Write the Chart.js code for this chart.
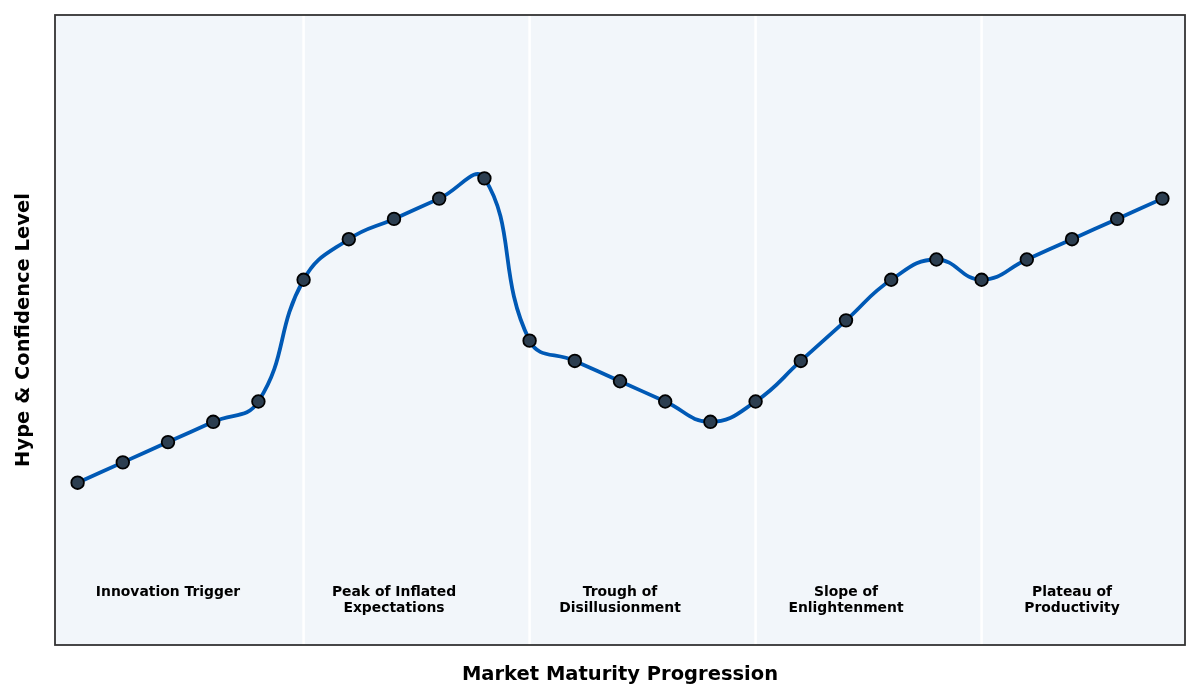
<!DOCTYPE html>
<html>
<head>
<meta charset="utf-8">
<script src="https://cdn.jsdelivr.net/npm/chart.js@4/dist/chart.umd.min.js"></script>
<style>
  html, body { margin: 0; padding: 0; background: #ffffff; }
  #wrap { width: 1200px; height: 700px; }
</style>
</head>
<body>
<div id="wrap"><canvas id="c" width="1200" height="700"></canvas></div>
<script>
// ---- data ----
const stepIndex = [0,1,2,3,4,5,6,7,8,9,10,11,12,13,14,15,16,17,18,19,20,21,22,23,24];
const hypeValues = [8,9,10,11,12,18,20,21,22,23,15,14,13,12,11,12,14,16,18,19,18,19,20,21,22];
const phaseNames = [
  ["Innovation Trigger"],
  ["Peak of Inflated", "Expectations"],
  ["Trough of", "Disillusionment"],
  ["Slope of", "Enlightenment"],
  ["Plateau of", "Productivity"]
];
const phaseBoundaries = [5, 10, 15, 20];
const phaseCenters = [2, 7, 12, 17, 22];
const yAxisTitle = "Hype & Confidence Level";
const xAxisTitle = "Market Maturity Progression";

const FONT = "'DejaVu Sans', sans-serif";
const yMax = Math.max(...hypeValues) * 1.35;

const decorPlugin = {
  id: 'decor',
  beforeDatasetsDraw(chart) {
    const {ctx, chartArea: a, scales: {x, y}} = chart;
    ctx.save();
    ctx.fillStyle = '#f2f6fa';
    ctx.fillRect(a.left, a.top, a.right - a.left, a.bottom - a.top);
    ctx.strokeStyle = '#ffffff';
    ctx.lineWidth = 2.5;
    phaseBoundaries.forEach(b => {
      const px = x.getPixelForValue(b);
      ctx.beginPath();
      ctx.moveTo(px, a.top);
      ctx.lineTo(px, a.bottom);
      ctx.stroke();
    });
    ctx.fillStyle = '#000000';
    ctx.font = "bold 13.9px " + FONT;
    ctx.textAlign = 'center';
    ctx.textBaseline = 'top';
    phaseNames.forEach((lines, i) => {
      const px = x.getPixelForValue(phaseCenters[i]);
      const py = y.getPixelForValue(3) + 1;
      lines.forEach((t, j) => ctx.fillText(t, px, py + j * 16));
    });
    ctx.restore();
  },
  afterDraw(chart) {
    const {ctx, chartArea: a} = chart;
    ctx.save();
    ctx.strokeStyle = '#333333';
    ctx.lineWidth = 1.8;
    ctx.strokeRect(a.left, a.top, a.right - a.left, a.bottom - a.top);
    ctx.restore();
  }
};

new Chart(document.getElementById('c'), {
  type: 'line',
  data: {
    datasets: [{
      data: stepIndex.map((s, i) => ({x: s, y: hypeValues[i]})),
      borderColor: '#0059b5',
      borderWidth: 3.8,
      tension: 0.45,
      cubicInterpolationMode: 'default',
      pointRadius: 6.3,
      pointHoverRadius: 6.3,
      pointBackgroundColor: '#2c3e50',
      pointBorderColor: '#000000',
      pointBorderWidth: 1.8,
      fill: false
    }]
  },
  options: {
    responsive: false,
    animation: false,
    devicePixelRatio: 1,
    layout: { padding: { top: 15, right: 15, left: 0, bottom: 0 } },
    plugins: { legend: { display: false }, tooltip: { enabled: false } },
    scales: {
      x: {
        type: 'linear',
        min: -0.5,
        max: 24.5,
        grid: { display: false, drawTicks: false },
        border: { display: false },
        ticks: { display: false },
        title: {
          display: true,
          text: xAxisTitle,
          color: '#000000',
          font: { family: FONT, size: 19.5, weight: 'bold' },
          padding: { top: 0, bottom: 13 }
        },
        afterFit(scale) { scale.height = 55; }
      },
      y: {
        min: 0,
        max: yMax,
        grid: { display: false, drawTicks: false },
        border: { display: false },
        ticks: { display: false },
        title: {
          display: true,
          text: yAxisTitle,
          color: '#000000',
          font: { family: FONT, size: 19.5, weight: 'bold' },
          padding: { top: 12, bottom: 0 }
        },
        afterFit(scale) { scale.width = 55; }
      }
    }
  },
  plugins: [decorPlugin]
});
</script>
</body>
</html>
